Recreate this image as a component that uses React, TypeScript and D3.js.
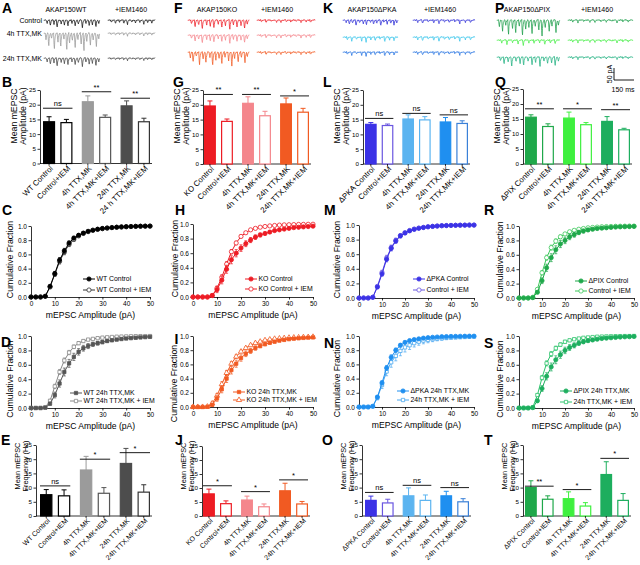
import React, { useRef, useEffect } from "react";
import * as d3 from "d3";

const FONT = "'Liberation Sans', Arial, Helvetica, sans-serif";

// ---------------- bar chart data ----------------
const LABELS_WT_AMP = ["WT Control", "Control+IEM", "4h TTX,MK", "4h TTX,MK+IEM", "24h TTX,MK", "24 h TTX,MK+IEM"];
const LABELS_WT = ["WT Control", "Control+IEM", "4h TTX,MK", "4h TTX,MK+IEM", "24h TTX,MK", "24h TTX,MK+IEM"];
const LABELS_KO = ["KO Control", "Control+IEM", "4h TTX,MK", "4h TTX,MK+IEM", "24h TTX,MK", "24h TTX,MK+IEM"];
const LABELS_PKA = ["ΔPKA Control", "Control+IEM", "4h TTX,MK", "4h TTX,MK+IEM", "24h TTX,MK", "24h TTX,MK+IEM"];
const LABELS_PIX = ["ΔPIX Control", "Control+IEM", "4h TTX,MK", "4h TTX,MK+IEM", "24h TTX,MK", "24h TTX,MK+IEM"];

const AMP_WT = [14.2, 13.9, 21.0, 15.7, 19.6, 14.2];
const AMP_WT_SEM = [1.7, 1.1, 2.0, 0.8, 1.7, 1.2];
const FREQ_WT = [7.5, 7.1, 16.2, 8.0, 18.5, 8.4];
const FREQ_WT_SEM = [1.8, 2.1, 4.8, 2.0, 5.3, 2.6];

const AMP_KO = [19.6, 14.4, 20.5, 16.3, 20.3, 17.5];
const AMP_KO_SEM = [1.7, 0.8, 2.2, 1.5, 2.0, 1.3];
const FREQ_KO = [7.9, 4.4, 5.7, 3.3, 9.0, 4.3];
const FREQ_KO_SEM = [1.7, 1.0, 1.4, 1.0, 2.7, 0.9];

const AMP_PKA = [13.4, 13.0, 15.2, 14.9, 14.2, 13.7];
const AMP_PKA_SEM = [0.6, 0.5, 1.4, 1.1, 1.5, 0.9];
const FREQ_PKA = [5.5, 4.6, 7.1, 5.5, 7.1, 5.0];
const FREQ_PKA_SEM = [1.5, 1.3, 2.8, 1.9, 1.6, 1.1];

const AMP_PIX = [15.6, 12.5, 15.3, 13.1, 14.2, 11.4];
const AMP_PIX_SEM = [0.8, 0.9, 2.0, 0.7, 1.6, 0.5];
const FREQ_PIX = [10.0, 5.9, 6.1, 3.5, 14.6, 5.5];
const FREQ_PIX_SEM = [2.4, 1.2, 2.4, 1.2, 4.5, 2.4];

// significance bars: height (in axis units) and mark, one per pair
const SIG_B = [18.8, 24.4, 22.2];
const SIG_B_TXT = ["ns", "**", "**"];
const SIG_E = [10.6, 20.0, 22.3];
const SIG_E_TXT = ["ns", "*", "*"];
const SIG_G = [23.5, 23.5, 23.0];
const SIG_G_TXT = ["**", "**", "*"];
const SIG_J = [10.8, 8.7, 12.9];
const SIG_J_TXT = ["*", "*", "*"];
const SIG_L = [15.4, 17.1, 16.6];
const SIG_L_TXT = ["ns", "ns", "ns"];
const SIG_O = [8.3, 10.8, 10.0];
const SIG_O_TXT = ["ns", "ns", "ns"];
const SIG_Q = [18.4, 18.4, 18.1];
const SIG_Q_TXT = ["**", "*", "**"];
const SIG_T = [10.5, 9.3, 20.3];
const SIG_T_TXT = ["**", "*", "*"];

// ---------------- cumulative distributions ----------------
const AMP_BINS = [0, 2, 4, 6, 8, 10, 12, 14, 16, 18, 20, 22, 24, 26, 28, 30, 32, 34, 36, 38, 40, 42, 44, 46, 48, 50];

const WT_CTRL = [0, 0, 0, 0.01, 0.15, 0.33, 0.52, 0.65, 0.76, 0.83, 0.87, 0.9, 0.925, 0.94, 0.955, 0.965, 0.972, 0.978, 0.983, 0.987, 0.99, 0.993, 0.995, 0.997, 0.998, 0.999];
const WT_CTRL_IEM = [0, 0, 0, 0.01, 0.14, 0.32, 0.5, 0.63, 0.74, 0.81, 0.86, 0.895, 0.92, 0.94, 0.952, 0.962, 0.97, 0.977, 0.982, 0.986, 0.99, 0.992, 0.994, 0.996, 0.997, 0.998];
const WT_24H = [0, 0, 0, 0.005, 0.06, 0.18, 0.34, 0.5, 0.62, 0.71, 0.78, 0.83, 0.86, 0.885, 0.9, 0.915, 0.93, 0.94, 0.95, 0.958, 0.965, 0.97, 0.975, 0.98, 0.984, 0.988];
const WT_24H_IEM = [0, 0, 0, 0.01, 0.1, 0.3, 0.5, 0.66, 0.77, 0.85, 0.9, 0.93, 0.95, 0.96, 0.97, 0.977, 0.982, 0.986, 0.99, 0.992, 0.994, 0.996, 0.997, 0.998, 0.998, 0.999];

const KO_CTRL = [0, 0, 0, 0, 0.02, 0.1, 0.23, 0.38, 0.51, 0.6, 0.67, 0.73, 0.78, 0.82, 0.85, 0.87, 0.89, 0.91, 0.92, 0.93, 0.94, 0.95, 0.955, 0.96, 0.965, 0.97];
const KO_CTRL_IEM = [0, 0, 0, 0, 0.02, 0.12, 0.27, 0.45, 0.62, 0.74, 0.83, 0.88, 0.92, 0.94, 0.956, 0.966, 0.974, 0.98, 0.985, 0.988, 0.99, 0.992, 0.994, 0.995, 0.996, 0.997];
const KO_24H = [0, 0, 0, 0.003, 0.03, 0.12, 0.25, 0.4, 0.52, 0.61, 0.69, 0.75, 0.79, 0.83, 0.86, 0.885, 0.905, 0.92, 0.935, 0.945, 0.955, 0.962, 0.968, 0.973, 0.977, 0.98];
const KO_24H_IEM = [0, 0, 0, 0.005, 0.05, 0.16, 0.32, 0.48, 0.61, 0.71, 0.78, 0.83, 0.87, 0.9, 0.92, 0.94, 0.95, 0.96, 0.965, 0.97, 0.975, 0.978, 0.98, 0.983, 0.985, 0.988];

const PKA_CTRL = [0, 0, 0, 0.01, 0.15, 0.33, 0.53, 0.68, 0.78, 0.85, 0.89, 0.92, 0.94, 0.955, 0.965, 0.975, 0.98, 0.985, 0.99, 0.992, 0.994, 0.996, 0.997, 0.998, 0.999, 0.999];
const PKA_CTRL_IEM = [0, 0, 0, 0.01, 0.16, 0.35, 0.55, 0.69, 0.79, 0.855, 0.895, 0.925, 0.945, 0.958, 0.968, 0.976, 0.982, 0.987, 0.99, 0.993, 0.995, 0.996, 0.997, 0.998, 0.999, 0.999];
const PKA_24H = [0, 0, 0, 0.01, 0.14, 0.34, 0.55, 0.7, 0.8, 0.87, 0.91, 0.935, 0.95, 0.96, 0.97, 0.977, 0.982, 0.986, 0.99, 0.992, 0.994, 0.995, 0.996, 0.997, 0.998, 0.998];
const PKA_24H_IEM = [0, 0, 0, 0.01, 0.13, 0.31, 0.5, 0.63, 0.72, 0.79, 0.84, 0.87, 0.9, 0.92, 0.935, 0.945, 0.955, 0.962, 0.968, 0.973, 0.977, 0.98, 0.983, 0.986, 0.988, 0.99];

const PIX_CTRL = [0, 0, 0, 0.005, 0.08, 0.24, 0.42, 0.56, 0.67, 0.75, 0.8, 0.85, 0.88, 0.91, 0.93, 0.945, 0.955, 0.965, 0.97, 0.975, 0.98, 0.985, 0.988, 0.99, 0.992, 0.994];
const PIX_CTRL_IEM = [0, 0, 0, 0.01, 0.12, 0.35, 0.56, 0.7, 0.79, 0.85, 0.89, 0.92, 0.94, 0.955, 0.965, 0.975, 0.98, 0.985, 0.99, 0.992, 0.994, 0.996, 0.997, 0.998, 0.999, 0.999];
const PIX_24H = [0, 0, 0, 0.005, 0.1, 0.27, 0.44, 0.57, 0.67, 0.74, 0.8, 0.84, 0.87, 0.9, 0.92, 0.935, 0.945, 0.955, 0.965, 0.97, 0.975, 0.98, 0.985, 0.988, 0.99, 0.993];
const PIX_24H_IEM = [0, 0, 0, 0.01, 0.18, 0.42, 0.62, 0.75, 0.83, 0.88, 0.92, 0.94, 0.955, 0.965, 0.975, 0.98, 0.985, 0.99, 0.992, 0.994, 0.996, 0.997, 0.998, 0.999, 0.999, 1.0];

// SEM profiles along the bins
const SEM_LOW = [0, 0, 0, 0.005, 0.02, 0.03, 0.035, 0.035, 0.03, 0.025, 0.02, 0.017, 0.014, 0.012, 0.01, 0.008, 0.007, 0.006, 0.005, 0.004, 0.004, 0.003, 0.003, 0.002, 0.002, 0.002];
const SEM_MID = [0, 0, 0, 0.005, 0.02, 0.04, 0.05, 0.055, 0.055, 0.05, 0.045, 0.04, 0.035, 0.03, 0.026, 0.022, 0.019, 0.016, 0.014, 0.012, 0.01, 0.009, 0.008, 0.007, 0.006, 0.005];
const SEM_HIGH = [0, 0, 0, 0.005, 0.03, 0.05, 0.06, 0.07, 0.07, 0.068, 0.065, 0.06, 0.055, 0.05, 0.045, 0.04, 0.035, 0.03, 0.027, 0.024, 0.021, 0.018, 0.016, 0.014, 0.012, 0.01];

// ---------------- example traces ----------------
// events: [position along the sweep (0..1), amplitude pA]
const EV_LARGE = [[0.03, 30], [0.08, 55], [0.13, 25], [0.18, 70], [0.24, 40], [0.29, 60], [0.35, 30], [0.4, 75], [0.45, 45], [0.5, 35], [0.55, 65], [0.6, 30], [0.66, 50], [0.71, 80], [0.76, 35], [0.82, 55], [0.87, 30], [0.93, 60], [0.97, 25]];
const EV_MEDIUM = [[0.05, 18], [0.11, 30], [0.17, 22], [0.23, 40], [0.3, 20], [0.36, 28], [0.42, 35], [0.49, 18], [0.55, 32], [0.61, 24], [0.68, 42], [0.74, 20], [0.8, 30], [0.86, 25], [0.92, 38], [0.97, 18]];
const EV_SMALL = [[0.07, 12], [0.15, 18], [0.24, 10], [0.33, 16], [0.41, 22], [0.5, 12], [0.58, 15], [0.67, 10], [0.75, 20], [0.84, 13], [0.92, 16]];
const EVENT_SETS = [EV_SMALL, EV_MEDIUM, EV_LARGE];
const NOISE = [2, -1, 3, 0, -2, 1, 4, -1, 2, -3, 1, 0, 3, -2, 2, 1, -1, 3, 0, -2, 1, -3, 2, 0, -1, 4, 1, -2, 0, 2, -3, 1, 3, -1, 0, 2, -2, 1, -1, 3, 0];
const KERNEL = [0.7, 1, 0.5, 0.25, 0.12, 0.05];

// per column, per row: [left set, left scale, right set, right scale]
const TRACES_WT = [[1, 0.8, 0, 0.9], [2, 1.0, 0, 0.6], [1, 0.9, 0, 0.5]];
const TRACES_KO = [[1, 1.0, 0, 0.6], [1, 0.9, 0, 0.7], [2, 0.8, 0, 0.6]];
const TRACES_PKA = [[1, 0.6, 0, 0.8], [0, 1.0, 0, 0.9], [0, 0.8, 0, 0.7]];
const TRACES_PIX = [[2, 0.9, 0, 0.6], [0, 1.0, 0, 0.6], [1, 1.0, 0, 0.5]];

const ROW_LABELS = ["Control", "4h TTX,MK", "24h TTX,MK"];

// ---------------- colours ----------------
const C_WT = ["#000000", "#9b9b9b", "#4d4d4d"];
const C_KO = ["#ed1c24", "#f4868c", "#f15a22"];
const C_PKA = ["#3b32e6", "#5bb4f0", "#1f8ff0"];
const C_PIX = ["#1fa84a", "#3ef03e", "#1dae5e"];
const TRACE_WT = ["#111111", "#9a9a9a", "#444444"];
const TRACE_KO = ["#ed1c24", "#f4868c", "#f15a22"];
const TRACE_PKA = ["#2b2bd6", "#33c3ea", "#1f6fe0"];
const TRACE_PIX = ["#1c9e4a", "#44ee44", "#20b080"];

const PX_PER_PA = 11 / 50;

type G = d3.Selection<SVGGElement, unknown, null, undefined>;

function styleAxis(ax: any, size: number) {
  ax.select(".domain").attr("stroke", "#000").attr("stroke-width", 0.8);
  ax.selectAll(".tick line").attr("stroke", "#000").attr("stroke-width", 0.8);
  ax.selectAll(".tick text").attr("font-size", size).attr("font-family", FONT).attr("fill", "#000");
}

function txt(g: G, x: number, y: number, s: string, size: number, anchor = "start", weight = "normal") {
  return g.append("text").attr("x", x).attr("y", y).attr("font-family", FONT)
    .attr("font-size", size).attr("font-weight", weight).attr("text-anchor", anchor).attr("fill", "#000").text(s);
}

function rotText(g: G, x: number, y: number, s: string, size: number) {
  return g.append("text").attr("transform", `translate(${x},${y}) rotate(-90)`)
    .attr("font-family", FONT).attr("font-size", size).attr("text-anchor", "middle").attr("fill", "#000").text(s);
}

function drawTrace(g: G, x0: number, x1: number, y0: number, events: number[][], scale: number, color: string) {
  const step = 0.4;
  const n = Math.round((x1 - x0) / step);
  const x = d3.scaleLinear().domain([0, n]).range([x0, x1]);
  const pts: [number, number][] = [];
  for (let i = 0; i <= n; i++) {
    let v = NOISE[i % NOISE.length] * 0.8;
    events.forEach(([t, amp]) => {
      const k = i - Math.round(t * n);
      if (k >= 0 && k < KERNEL.length) v += amp * scale * KERNEL[k];
    });
    pts.push([x(i), y0 + v * PX_PER_PA]);
  }
  g.append("path").attr("d", d3.line()(pts)).attr("fill", "none").attr("stroke", color)
    .attr("stroke-width", 0.75).attr("stroke-linejoin", "round");
}

interface TraceLayout {
  left: [number, number]; right: [number, number]; rows: number[];
  head: [number, number]; title: string; sets: number[][]; colors: string[]; rowLabels: boolean;
}

function drawTraces(g: G, L: TraceLayout) {
  txt(g, L.head[0], 12, L.title, 7, "middle");
  txt(g, L.head[1], 12, "+IEM1460", 7, "middle");
  L.rows.forEach((y, r) => {
    const [ls, lk, rs, rk] = L.sets[r];
    drawTrace(g, L.left[0], L.left[1], y, EVENT_SETS[ls], lk, L.colors[r]);
    drawTrace(g, L.right[0], L.right[1], y, EVENT_SETS[rs], rk, L.colors[r]);
    if (L.rowLabels) txt(g, 42, y + 2.5, ROW_LABELS[r], 7, "end");
  });
}

interface BarSpec {
  axisX: number; range: [number, number]; yTop: number; yBot: number;
  values: number[]; sems: number[]; colors: string[]; iemStroke: string[];
  labels: string[]; labSize: number; sigY: number[]; sigTxt: string[];
  yLab: [string, string]; yLabSize: number; yLabX: [number, number]; yLabCy: number;
}

function drawBars(root: G, s: BarSpec) {
  const g = root.append("g");
  const y = d3.scaleLinear().domain([0, 25]).range([s.yBot, s.yTop]);
  const gx = d3.scaleBand<number>().domain([0, 1, 2]).range(s.range).paddingInner(0.24);
  const ix = d3.scaleBand<number>().domain([0, 1]).range([0, gx.bandwidth()]).paddingInner(0.3);
  const bw = ix.bandwidth();
  const barX = (i: number) => gx(Math.floor(i / 2))! + ix(i % 2)!;

  g.append("g").attr("transform", `translate(${s.axisX},0)`)
    .call(d3.axisLeft(y).tickValues([0, 5, 10, 15, 20, 25]).tickSize(2.5).tickSizeOuter(0).tickPadding(1.5))
    .call(styleAxis, 6.2);
  g.append("line").attr("x1", s.axisX).attr("x2", s.range[1] + 2).attr("y1", s.yBot).attr("y2", s.yBot)
    .attr("stroke", "#000").attr("stroke-width", 0.8);

  s.values.forEach((v, i) => {
    const x0 = barX(i);
    const cx = x0 + bw / 2;
    const open = i % 2 === 1;
    const col = open ? s.iemStroke[Math.floor(i / 2)] : s.colors[Math.floor(i / 2)];
    const top = y(v + s.sems[i]);
    g.append("line").attr("x1", cx).attr("x2", cx).attr("y1", y(v)).attr("y2", top)
      .attr("stroke", col).attr("stroke-width", 1);
    g.append("line").attr("x1", cx - 2.5).attr("x2", cx + 2.5).attr("y1", top).attr("y2", top)
      .attr("stroke", col).attr("stroke-width", 1);
    g.append("rect").attr("x", x0 + 0.6).attr("y", y(v)).attr("width", bw - 1.2).attr("height", s.yBot - y(v))
      .attr("fill", open ? "#fff" : col).attr("stroke", col).attr("stroke-width", 1.2);
    g.append("line").attr("x1", cx).attr("x2", cx).attr("y1", s.yBot).attr("y2", s.yBot + 2)
      .attr("stroke", "#000").attr("stroke-width", 0.8);
    g.append("text").attr("transform", `translate(${cx + 2.5},${s.yBot + 3.5}) rotate(-45)`)
      .attr("font-family", FONT).attr("font-size", s.labSize).attr("text-anchor", "end").attr("dy", "0.35em")
      .attr("fill", "#000").text(s.labels[i]);
  });

  s.sigY.forEach((v, k) => {
    const x0 = gx(k)!;
    const yy = y(v);
    g.append("line").attr("x1", x0).attr("x2", x0 + gx.bandwidth()).attr("y1", yy).attr("y2", yy)
      .attr("stroke", "#000").attr("stroke-width", 0.9);
    txt(g, x0 + gx.bandwidth() / 2, yy - 2, s.sigTxt[k], 7.5, "middle");
  });

  rotText(g, s.yLabX[0], s.yLabCy, s.yLab[0], s.yLabSize);
  rotText(g, s.yLabX[1], s.yLabCy, s.yLab[1], s.yLabSize);
}

interface CdfSeries { vals: number[]; sems: number[]; color: string; shape: string; open: boolean; label: string }
interface CdfSpec { x0: number; x1: number; yTop: number; yBot: number; series: CdfSeries[]; legX: number; legY: number[]; yLabX: number; yLabShift: number }

const SHAPES: Record<string, d3.SymbolType> = { circle: d3.symbolCircle, square: d3.symbolSquare, triangle: d3.symbolTriangle };

function marker(g: G, s: CdfSeries, cx: number, cy: number) {
  const size = s.shape === "circle" ? 14 : s.shape === "square" ? 11 : 12;
  g.append("path").attr("d", d3.symbol().type(SHAPES[s.shape]).size(size)())
    .attr("transform", `translate(${cx},${cy})`)
    .attr("fill", s.open ? "#fff" : s.color).attr("stroke", s.color).attr("stroke-width", 0.8);
}

function drawCdf(root: G, c: CdfSpec) {
  const g = root.append("g");
  const x = d3.scaleLinear().domain([0, 50]).range([c.x0, c.x1]);
  const y = d3.scaleLinear().domain([0, 1]).range([c.yBot, c.yTop]);

  g.append("g").attr("transform", `translate(0,${c.yBot})`)
    .call(d3.axisBottom(x).tickValues([0, 10, 20, 30, 40, 50]).tickSize(2.5).tickSizeOuter(0).tickPadding(1.5))
    .call(styleAxis, 6.5);
  g.append("g").attr("transform", `translate(${c.x0},0)`)
    .call(d3.axisLeft(y).tickValues([0, 0.2, 0.4, 0.6, 0.8, 1]).tickFormat(d3.format(".1f"))
      .tickSize(2.5).tickSizeOuter(0).tickPadding(1.5))
    .call(styleAxis, 6.5);

  [...c.series].reverse().forEach(s => {
    const line = d3.line<number>().x((_, i) => x(AMP_BINS[i])).y(v => y(v));
    g.append("path").attr("d", line(s.vals)).attr("fill", "none").attr("stroke", s.color).attr("stroke-width", 1);
    s.vals.forEach((v, i) => {
      const e = s.sems[i];
      if (e > 0.006) {
        const cx = x(AMP_BINS[i]);
        g.append("line").attr("x1", cx).attr("x2", cx).attr("y1", y(v - e)).attr("y2", y(Math.min(1.02, v + e)))
          .attr("stroke", s.color).attr("stroke-width", 0.7);
        [v - e, Math.min(1.02, v + e)].forEach(w => g.append("line")
          .attr("x1", cx - 1.5).attr("x2", cx + 1.5).attr("y1", y(w)).attr("y2", y(w))
          .attr("stroke", s.color).attr("stroke-width", 0.7));
      }
    });
    s.vals.forEach((v, i) => marker(g, s, x(AMP_BINS[i]), y(v)));
  });

  c.series.forEach((s, k) => {
    const ly = c.legY[k];
    g.append("line").attr("x1", c.legX).attr("x2", c.legX + 12).attr("y1", ly).attr("y2", ly)
      .attr("stroke", s.color).attr("stroke-width", 1);
    marker(g, s, c.legX + 6, ly);
    txt(g, c.legX + 13.5, ly + 2.4, s.label, 6.9);
  });

  txt(g, (c.x0 + c.x1) / 2, c.yBot + 21, "mEPSC Amplitude (pA)", 8.6, "middle");
  rotText(g, c.x0 + c.yLabX, (c.yTop + c.yBot) / 2 + c.yLabShift, "Cumulative Fraction", 8.7);
}

const App: React.FC = () => {
  const svgRef = useRef<SVGSVGElement>(null);

  useEffect(() => {
    const svgEl = svgRef.current;
    if (!svgEl) return;
    const svg = d3.select(svgEl);
    svg.selectAll("*").remove();
    const root = svg.append("g") as unknown as G;

    // ---- traces ----
    drawTraces(root, { left: [44, 100], right: [108, 155], rows: [20, 33, 58], head: [66, 131], title: "AKAP150WT", sets: TRACES_WT, colors: TRACE_WT, rowLabels: true });
    drawTraces(root, { left: [188, 249], right: [257, 315], rows: [20, 35, 52], head: [217, 277], title: "AKAP150KO", sets: TRACES_KO, colors: TRACE_KO, rowLabels: false });
    drawTraces(root, { left: [343, 398], right: [413, 475], rows: [20, 37, 52], head: [372, 440], title: "AKAP150ΔPKA", sets: TRACES_PKA, colors: TRACE_PKA, rowLabels: false });
    drawTraces(root, { left: [497, 560], right: [568, 633], rows: [20, 40, 57], head: [527, 597], title: "AKAP150ΔPIX", sets: TRACES_PIX, colors: TRACE_PIX, rowLabels: false });

    // scale bar
    root.append("path").attr("d", "M614,68V80H634").attr("fill", "none").attr("stroke", "#000").attr("stroke-width", 0.9);
    rotText(root, 612, 74, "50 pA", 7);
    txt(root, 623, 92, "150 ms", 7, "middle");

    // ---- amplitude bar charts ----
    const ampLab: [string, string] = ["Mean mEPSC", "Amplitude (pA)"];
    const frqLab: [string, string] = ["Mean mEPSC", "Frequency (Hz)"];
    const iemWT = ["#000000", "#555555", "#333333"];
    const iemPKA = ["#6a56e0", "#5bb4f0", "#3a80d8"];
    drawBars(root, { axisX: 40, range: [43, 150], yTop: 90, yBot: 163.5, values: AMP_WT, sems: AMP_WT_SEM, colors: C_WT, iemStroke: iemWT, labels: LABELS_WT_AMP, labSize: 7.8, sigY: SIG_B, sigTxt: SIG_B_TXT, yLab: ampLab, yLabSize: 8.7, yLabX: [16.5, 25.5], yLabCy: 116 });
    drawBars(root, { axisX: 203, range: [204, 309], yTop: 90, yBot: 164, values: AMP_KO, sems: AMP_KO_SEM, colors: C_KO, iemStroke: C_KO, labels: LABELS_KO, labSize: 7.8, sigY: SIG_G, sigTxt: SIG_G_TXT, yLab: ampLab, yLabSize: 8.7, yLabX: [179.5, 188.5], yLabCy: 116 });
    drawBars(root, { axisX: 363, range: [365, 468], yTop: 90, yBot: 164, values: AMP_PKA, sems: AMP_PKA_SEM, colors: C_PKA, iemStroke: iemPKA, labels: LABELS_PKA, labSize: 7.8, sigY: SIG_L, sigTxt: SIG_L_TXT, yLab: ampLab, yLabSize: 8.7, yLabX: [339.5, 348.5], yLabCy: 116 });
    drawBars(root, { axisX: 523, range: [525, 630], yTop: 89, yBot: 164, values: AMP_PIX, sems: AMP_PIX_SEM, colors: C_PIX, iemStroke: C_PIX, labels: LABELS_PIX, labSize: 7.8, sigY: SIG_Q, sigTxt: SIG_Q_TXT, yLab: ampLab, yLabSize: 8.7, yLabX: [499.5, 508.5], yLabCy: 116 });

    // ---- frequency bar charts ----
    drawBars(root, { axisX: 36, range: [40, 150], yTop: 445, yBot: 516, values: FREQ_WT, sems: FREQ_WT_SEM, colors: C_WT, iemStroke: iemWT, labels: LABELS_WT, labSize: 7, sigY: SIG_E, sigTxt: SIG_E_TXT, yLab: frqLab, yLabSize: 7.4, yLabX: [19.5, 27.5], yLabCy: 466 });
    drawBars(root, { axisX: 202, range: [203, 308], yTop: 446, yBot: 516, values: FREQ_KO, sems: FREQ_KO_SEM, colors: C_KO, iemStroke: C_KO, labels: LABELS_KO, labSize: 7, sigY: SIG_J, sigTxt: SIG_J_TXT, yLab: frqLab, yLabSize: 7.4, yLabX: [185.5, 193.5], yLabCy: 466 });
    drawBars(root, { axisX: 362, range: [365, 469], yTop: 445, yBot: 516, values: FREQ_PKA, sems: FREQ_PKA_SEM, colors: C_PKA, iemStroke: iemPKA, labels: LABELS_PKA, labSize: 7, sigY: SIG_O, sigTxt: SIG_O_TXT, yLab: frqLab, yLabSize: 7.4, yLabX: [345.5, 353.5], yLabCy: 466 });
    drawBars(root, { axisX: 523, range: [525, 629], yTop: 445, yBot: 516, values: FREQ_PIX, sems: FREQ_PIX_SEM, colors: C_PIX, iemStroke: C_PIX, labels: LABELS_PIX, labSize: 7, sigY: SIG_T, sigTxt: SIG_T_TXT, yLab: frqLab, yLabSize: 7.4, yLabX: [506.5, 514.5], yLabCy: 466 });

    // ---- cumulative distributions ----
    drawCdf(root, { x0: 31, x1: 150, yTop: 226, yBot: 297, legX: 83, legY: [279, 290], yLabX: -18, yLabShift: -2, series: [
      { vals: WT_CTRL, sems: SEM_LOW, color: "#000000", shape: "circle", open: false, label: "WT Control" },
      { vals: WT_CTRL_IEM, sems: SEM_LOW, color: "#333333", shape: "circle", open: true, label: "WT Control + IEM" }] });
    drawCdf(root, { x0: 31, x1: 150, yTop: 336, yBot: 408, legX: 70, legY: [393, 401], yLabX: -18, yLabShift: 7, series: [
      { vals: WT_24H, sems: SEM_MID, color: "#555555", shape: "square", open: false, label: "WT 24h TTX,MK" },
      { vals: WT_24H_IEM, sems: SEM_LOW, color: "#888888", shape: "square", open: true, label: "WT 24h TTX,MK + IEM" }] });
    drawCdf(root, { x0: 193, x1: 313, yTop: 224, yBot: 297, legX: 245, legY: [279, 289], yLabX: -15, yLabShift: -2, series: [
      { vals: KO_CTRL, sems: SEM_MID, color: "#ed1c24", shape: "circle", open: false, label: "KO Control" },
      { vals: KO_CTRL_IEM, sems: SEM_LOW, color: "#ed1c24", shape: "circle", open: true, label: "KO Control + IEM" }] });
    drawCdf(root, { x0: 193, x1: 313, yTop: 336, yBot: 407, legX: 233, legY: [392, 400], yLabX: -16, yLabShift: 12, series: [
      { vals: KO_24H, sems: SEM_MID, color: "#f15a22", shape: "square", open: false, label: "KO 24h TTX,MK" },
      { vals: KO_24H_IEM, sems: SEM_LOW, color: "#f15a22", shape: "triangle", open: true, label: "KO 24h TTX,MK + IEM" }] });
    drawCdf(root, { x0: 359, x1: 474, yTop: 225, yBot: 298, legX: 413, legY: [279, 290], yLabX: -19, yLabShift: -2, series: [
      { vals: PKA_CTRL, sems: SEM_LOW, color: "#3b32e6", shape: "circle", open: false, label: "ΔPKA Control" },
      { vals: PKA_CTRL_IEM, sems: SEM_LOW, color: "#6a56e0", shape: "circle", open: true, label: "Control + IEM" }] });
    drawCdf(root, { x0: 359, x1: 474, yTop: 336, yBot: 407, legX: 397, legY: [391, 400], yLabX: -19, yLabShift: 7, series: [
      { vals: PKA_24H, sems: SEM_LOW, color: "#1f8ff0", shape: "circle", open: false, label: "ΔPKA 24h TTX,MK" },
      { vals: PKA_24H_IEM, sems: SEM_HIGH, color: "#4aa8f0", shape: "square", open: true, label: "24h TTX,MK + IEM" }] });
    drawCdf(root, { x0: 519, x1: 634, yTop: 226, yBot: 298, legX: 575, legY: [281, 291], yLabX: -16, yLabShift: -2, series: [
      { vals: PIX_CTRL, sems: SEM_MID, color: "#1fa84a", shape: "circle", open: false, label: "ΔPIX Control" },
      { vals: PIX_CTRL_IEM, sems: SEM_LOW, color: "#3cc85a", shape: "circle", open: true, label: "Control + IEM" }] });
    drawCdf(root, { x0: 519, x1: 634, yTop: 336, yBot: 408, legX: 560, legY: [391, 402], yLabX: -16, yLabShift: 7, series: [
      { vals: PIX_24H, sems: SEM_MID, color: "#1dae5e", shape: "circle", open: false, label: "ΔPIX 24h TTX,MK" },
      { vals: PIX_24H_IEM, sems: SEM_LOW, color: "#2dc46c", shape: "square", open: true, label: "24h TTX,MK + IEM" }] });

    // ---- panel letters ----
    const letters: [string, number, number][] = [
      ["A", 2, 13], ["B", 2, 87], ["C", 2, 215], ["D", 1, 347], ["E", 1, 445],
      ["F", 174, 13], ["G", 173, 87], ["H", 175, 215], ["I", 174.5, 344], ["J", 175, 445],
      ["K", 323, 13], ["L", 323, 87], ["M", 324, 215], ["N", 324, 348], ["O", 322, 445],
      ["P", 495, 13], ["Q", 495, 87], ["R", 484, 215], ["S", 484, 348], ["T", 484, 445],
    ];
    letters.forEach(([l, x, y]) => txt(root, x, y, l, 14, "start", "bold"));
  }, []);

  return (
    <svg ref={svgRef} width={640} height={565}
      style={{ position: "absolute", left: 0, top: 0, background: "#fff", display: "block" }} />
  );
};

export default App;
